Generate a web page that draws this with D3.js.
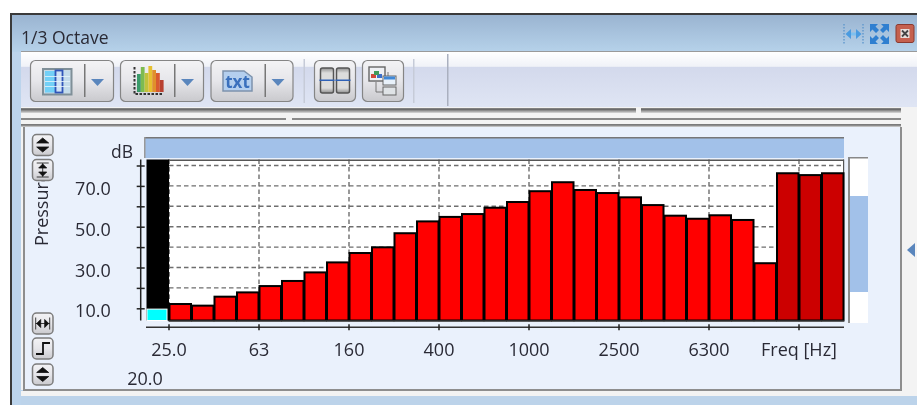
<!DOCTYPE html>
<html>
<head>
<meta charset="utf-8">
<script src="https://cdn.jsdelivr.net/npm/d3@7"></script>
<style>
  html, body { margin: 0; padding: 0; background: #fff; overflow: hidden; }
  svg { display: block; filter: blur(0.35px); }
  text { font-family: "Open Sans", "Noto Sans", sans-serif; fill: #2a2a35; }
</style>
</head>
<body>
<svg id="chart" width="917" height="405"></svg>
<script>
// 1/3 octave band centres, the first one is the cursor band
var freqs = ["20", "25", "31.5", "40", "50", "63", "80", "100", "125", "160", "200", "250",
  "315", "400", "500", "630", "800", "1000", "1250", "1600", "2000", "2500", "3150",
  "4000", "5000", "6300", "8000", "10000", "12500", "16000", "20000"];

// dB levels
var levels = [9.6, 12.1, 11.3, 15.7, 17.8, 20.9, 23.4, 27.6, 32.5, 37.1, 39.9, 46.8, 52.6,
  54.8, 56.2, 59.3, 62.1, 67.4, 71.8, 68, 66.5, 64.4, 60.6, 55.4, 53.9, 55.6, 53.3,
  32.1, 76.2, 75.3, 76.2];

var xTickFreqs = ["25", "63", "160", "400", "1000", "2500", "6300", "16000"];
var xTickLabels = ["25.0", "63", "160", "400", "1000", "2500", "6300", "Freq [Hz]"];
var yTicks = [10, 20, 30, 40, 50, 60, 70, 80];
var yTickLabels = ["10.0", "", "30.0", "", "50.0", "", "70.0", ""];
var darkBands = ["12500", "16000", "20000"];
var cursorBand = "20";

var svg = d3.select("#chart");
var defs = svg.append("defs");

function gradient(id, stops) {
    var g = defs.append("linearGradient").attr("id", id)
        .attr("x1", 0).attr("x2", 0).attr("y1", 0).attr("y2", 1);
    stops.forEach(function(s) {
        g.append("stop").attr("offset", s[0]).attr("stop-color", s[1]);
    });
}
gradient("titleGrad", [[0, "#9ab4d1"], [1, "#b6d2ea"]]);
gradient("toolGrad", [[0, "#ffffff"], [0.26, "#f0f2f8"], [0.28, "#d3d9ec"], [1, "#dfe5f4"]]);
gradient("btnGrad", [[0, "#f3f3f5"], [0.5, "#e6e6ea"], [1, "#c9c9cd"]]);
gradient("splitGrad", [[0, "#8c8c8c"], [0.3, "#6d6d6d"], [1, "#dadada"]]);
gradient("slotGrad", [[0, "#8f8f8f"], [0.2, "#dcdcdc"], [0.8, "#dcdcdc"], [1, "#8f8f8f"]]);

function box(x, y, w, h, fill) {
    return svg.append("rect").attr("x", x).attr("y", y).attr("width", w).attr("height", h).attr("fill", fill);
}

// window chrome
box(10, 13, 907, 392, "#bcd4ec");
box(10, 13, 907, 2, "#3a3a3a");
box(10, 13, 2, 392, "#3a3a3a");
box(12, 15, 905, 37, "url(#titleGrad)");
box(21, 51, 896, 1.5, "#9a9a9a");
box(21, 52, 896, 55, "url(#toolGrad)");
box(21, 107, 880, 283, "#f3f3f3");
box(21, 108, 880, 5, "url(#splitGrad)");
box(21, 118, 880, 2, "#8a8a8a");
box(21, 124, 880, 3, "url(#splitGrad)");
box(286, 118, 6, 2, "#f3f3f3");
box(636, 108, 5, 5, "#f3f3f3");
box(901, 107, 16, 290, "#f3f3f3");
box(21, 396, 896, 9, "#bcd3ea");
box(21, 391, 896, 5, "#f3f3f3");

// chart panel
box(23, 127, 879, 264, "#eaf1fc");
box(23, 127, 2, 264, "#8e8e8e");
box(900, 127, 2, 264, "#8e8e8e");
box(23, 389, 879, 2, "#8e8e8e");

svg.append("text").attr("x", 21).attr("y", 44).attr("font-size", 17.5).text("1/3 Octave");

// toolbar
function toolButton(x, w, sepX) {
    svg.append("rect").attr("x", x).attr("y", 60.5).attr("width", w).attr("height", 41).attr("rx", 5)
        .attr("fill", "url(#btnGrad)").attr("stroke", "#858585").attr("stroke-width", 1.2);
    if (sepX) {
        box(sepX, 64, 1.5, 33, "#777");
        svg.append("path").attr("d", d3.line()([[sepX + 7, 79], [sepX + 20, 79], [sepX + 13.5, 86]]))
            .attr("fill", "#5a86bd");
    }
}
toolButton(30.5, 83, 84);
toolButton(120.5, 83, 174);
toolButton(211, 82, 264.5);
toolButton(314.5, 41);
toolButton(362.5, 41);
box(303.5, 59, 1.5, 44, "#c6cbd8");
box(413, 59, 1.5, 44, "#c6cbd8");
box(447, 54, 1.5, 52, "#aab0bf");

// table icon
box(43, 69, 28.5, 25.5, "#c9dbe6").attr("stroke", "#7f8f98").attr("stroke-width", 2);
box(45, 71, 10, 21.5, "#72d0f7");
box(63, 71, 7, 21.5, "#c4dceb");
box(55.5, 70.5, 7, 22, "#cfe2f5").attr("stroke", "#3155b8").attr("stroke-width", 1.8);
[76, 81, 86].forEach(function(ly) { box(45, ly, 25, 0.8, "#e8f4fa"); });
// spectrum icon
["#3a9a6a", "#7dbb50", "#bfc23c", "#e6c030", "#e0902c", "#d85a30", "#b84030"].forEach(function(c, i) {
    var h = [18, 25, 19, 26, 22, 19, 12][i];
    box(137 + i * 3.8, 92 - h, 3.8, h, c);
});
svg.append("path").attr("d", "M134.5 67V94H163").attr("fill", "none").attr("stroke", "#333")
    .attr("stroke-width", 2).attr("stroke-dasharray", "2.5,1.5");
// txt icon
svg.append("path").attr("d", "M223 71H244L252 77V91H223Z").attr("fill", "#b4cfee").attr("stroke", "#7d93ad").attr("stroke-width", 1.5);
svg.append("text").attr("x", 237.5).attr("y", 88).attr("text-anchor", "middle").attr("font-size", 17)
    .attr("font-weight", 700).style("fill", "#3a70bd").text("txt");
// split view icons
[320.5, 336.5].forEach(function(x) {
    svg.append("rect").attr("x", x).attr("y", 68).attr("width", 13).attr("height", 25).attr("rx", 2)
        .attr("fill", "url(#slotGrad)").attr("stroke", "#555").attr("stroke-width", 1.5);
    box(x - 1, 79.5, 15, 1.5, "#2f62b8");
});
// layout icon
svg.append("path").attr("d", "M376 82V92H384M388 76V72").attr("fill", "none").attr("stroke", "#777");
box(369, 67, 16, 14, "#eef0f4").attr("stroke", "#666").attr("stroke-width", 1.4);
box(371, 74, 5, 4, "#d0483c");
box(377, 74, 5, 4, "#3c6fc8");
box(374, 71, 5, 4, "#3f9a5a");
box(383, 76, 13, 9, "#e8f1fa").attr("stroke", "#666");
box(384, 76.5, 11, 3, "#3f88d8");
box(383, 87, 13, 8, "#dfe3e6").attr("stroke", "#666");

// window buttons, top right
svg.append("path").attr("d", "M844 24V44M863 24V44").attr("stroke", "#5a94cc").attr("stroke-width", 1.3).attr("stroke-dasharray", "1.5,1.5");
svg.append("path").attr("d", "M847 34H860").attr("fill", "none").attr("stroke", "#7fc0ee").attr("stroke-width", 3);
svg.append("path").attr("d", "M851 29L845.5 34L851 39ZM856 29L861.5 34L856 39Z").attr("fill", "#4a9be0");
[[870, 24, 1, 1], [889, 24, -1, 1], [870, 44, 1, -1], [889, 44, -1, -1]].forEach(function(c) {
    var cx = c[0], cy = c[1], sx = c[2], sy = c[3];
    svg.append("path")
        .attr("d", d3.line()([[cx, cy], [cx + 8 * sx, cy], [cx + 5.5 * sx, cy + 2.5 * sy], [cx + 9 * sx, cy + 6 * sy],
            [cx + 6 * sx, cy + 9 * sy], [cx + 2.5 * sx, cy + 5.5 * sy], [cx, cy + 8 * sy]]))
        .attr("fill", "#2f7fd0");
});
svg.append("rect").attr("x", 896).attr("y", 24.5).attr("width", 18).attr("height", 18).attr("rx", 2)
    .attr("fill", "#c5604e").attr("stroke", "#8a3a30");
box(900.5, 29, 9, 9, "#e7e0dc");
svg.append("path").attr("d", "M902 30.5L908 36.5M908 30.5L902 36.5").attr("stroke", "#444").attr("stroke-width", 1.8);

// side buttons
function sideButton(y, glyph) {
    svg.append("rect").attr("x", 32.5).attr("y", y).attr("width", 20.5).attr("height", 21).attr("rx", 4)
        .attr("fill", "url(#btnGrad)").attr("stroke", "#7c7c7c").attr("stroke-width", 1.5);
    svg.append("path").attr("d", glyph(42.7, y + 10.5)).attr("fill", "#111").attr("stroke", "#111").attr("stroke-width", 0.8);
}
var updown = function(x, y) { return "M" + (x - 6) + " " + (y - 2) + "L" + x + " " + (y - 7) + "L" + (x + 6) + " " + (y - 2) + "ZM" + (x - 6) + " " + (y + 2) + "L" + x + " " + (y + 7) + "L" + (x + 6) + " " + (y + 2) + "Z"; };
var expandV = function(x, y) { return "M" + (x - 6) + " " + (y - 7) + "H" + (x + 6) + "M" + (x - 6) + " " + (y + 7) + "H" + (x + 6) + "M" + x + " " + (y - 7) + "V" + (y + 7) + "M" + (x - 4) + " " + (y - 2) + "L" + x + " " + (y - 6) + "L" + (x + 4) + " " + (y - 2) + "ZM" + (x - 4) + " " + (y + 2) + "L" + x + " " + (y + 6) + "L" + (x + 4) + " " + (y + 2) + "Z"; };
var expandH = function(x, y) { return "M" + (x - 7) + " " + (y - 6) + "V" + (y + 6) + "M" + (x + 7) + " " + (y - 6) + "V" + (y + 6) + "M" + (x - 7) + " " + y + "H" + (x + 7) + "M" + (x - 2) + " " + (y - 4) + "L" + (x - 6) + " " + y + "L" + (x - 2) + " " + (y + 4) + "ZM" + (x + 2) + " " + (y - 4) + "L" + (x + 6) + " " + y + "L" + (x + 2) + " " + (y + 4) + "Z"; };
sideButton(134.5, updown);
sideButton(313, expandH);
svg.append("rect").attr("x", 32.5).attr("y", 338).attr("width", 20.5).attr("height", 21).attr("rx", 4)
    .attr("fill", "url(#btnGrad)").attr("stroke", "#7c7c7c").attr("stroke-width", 1.5);
svg.append("path").attr("d", "M36 354H43V343H50").attr("fill", "none").attr("stroke", "#111").attr("stroke-width", 1.8);
sideButton(364, updown);

// y axis title goes under the button
svg.append("text").attr("transform", "translate(48,246) rotate(-90)").attr("font-size", 18).text("Pressure");
sideButton(159.5, expandV);

svg.append("text").attr("x", 133).attr("y", 158).attr("text-anchor", "end").attr("font-size", 17.5).text("dB");

// level strip above the plot
box(144, 137, 700, 21, "#a2c1e9");
box(144, 137, 700, 1.5, "#777");
box(144, 137, 1.5, 21, "#999");

// scrollbar on the right
box(849, 157, 19, 166, "#ffffff");
box(849, 157, 19, 1.5, "#888");
box(848, 157, 2, 166, "#8a8a8a");
box(850, 196, 18, 96, "#a2c1e9");
svg.append("path").attr("d", "M915 243V257L907 250Z").attr("fill", "#5a86bd");

// scales
var x = d3.scaleBand().domain(freqs).range([146.5, 844]);
var y = d3.scaleLinear().domain([10, 80]).range([308.3, 165.5]);
var floorDb = y.invert(320.5);
var topDb = y.invert(159.5);
var bw = x.bandwidth();

// plot area
var plotLeft = x(freqs[1]);
box(plotLeft, y(topDb), 844 - plotLeft, y(floorDb) - y(topDb), "#ffffff");

// gridlines
var grid = svg.append("g").attr("stroke", "#6e6e6e").attr("stroke-width", 1.4).attr("stroke-dasharray", "4.5,3");
grid.selectAll("line.h").data(yTicks).enter().append("line").attr("class", "h")
    .attr("x1", plotLeft).attr("x2", 844)
    .attr("y1", function(d) { return y(d); }).attr("y2", function(d) { return y(d); });
grid.selectAll("line.v").data(xTickFreqs).enter().append("line").attr("class", "v")
    .attr("x1", function(d) { return x(d); }).attr("x2", function(d) { return x(d); })
    .attr("y1", y(topDb)).attr("y2", y(floorDb));
grid.append("line").attr("x1", plotLeft).attr("x2", plotLeft).attr("y1", y(topDb)).attr("y2", y(floorDb));

box(plotLeft, y(topDb), 844 - plotLeft, 1.5, "#555");
box(843, y(topDb), 1.2, y(floorDb) - y(topDb), "#555");

// cursor band behind its bar
box(x(cursorBand), y(topDb), bw, y(floorDb) - y(topDb), "#000");

var bands = freqs.map(function(f, i) { return {freq: f, level: levels[i]}; });

svg.append("g").selectAll("rect").data(bands.slice(1)).enter().append("rect")
    .attr("x", function(d) { return x(d.freq) + 0.5; })
    .attr("y", function(d) { return y(d.level); })
    .attr("width", bw - 1)
    .attr("height", function(d) { return y(floorDb) - y(d.level); })
    .attr("fill", function(d) { return darkBands.indexOf(d.freq) >= 0 ? "#cc0000" : "#ff0000"; })
    .attr("stroke", "#000")
    .attr("stroke-width", 2);

// cyan bar of the cursor band
svg.append("g").selectAll("rect").data(bands.slice(0, 1)).enter().append("rect")
    .attr("x", function(d) { return x(d.freq) + 0.5; })
    .attr("y", function(d) { return y(d.level); })
    .attr("width", bw - 2.5)
    .attr("height", function(d) { return y(floorDb) - y(d.level); })
    .attr("fill", "#00ffff")
    .attr("stroke", "#fff")
    .attr("stroke-width", 1);

box(plotLeft, y(floorDb), 844 - plotLeft, 1.2, "#555");

// axes
var yAxis = svg.append("g")
    .attr("transform", "translate(140.7,0)")
    .call(d3.axisLeft(y).tickValues(yTicks).tickSize(0)
        .tickFormat(function(d) { return yTickLabels[yTicks.indexOf(d)]; }));
yAxis.select(".domain").attr("d", d3.line()([[0, y(topDb)], [0, y(floorDb)]])).attr("stroke", "#222").attr("stroke-width", 1.5);
yAxis.selectAll(".tick line").attr("x1", -4).attr("x2", 4).attr("stroke", "#222").attr("stroke-width", 1.5);
yAxis.selectAll(".tick text").attr("x", -30).attr("dy", 0).attr("y", 8.5)
    .style("font-family", '"Open Sans", sans-serif').style("font-size", "18px").attr("fill", "#2a2a35");

// band scale centres its ticks, ours sit on the band's left edge
var xAxis = svg.append("g")
    .attr("transform", "translate(" + (-bw / 2) + ",327.3)")
    .call(d3.axisBottom(x).tickValues(xTickFreqs).tickSize(0)
        .tickFormat(function(d) { return xTickLabels[xTickFreqs.indexOf(d)]; }));
xAxis.select(".domain").attr("d", d3.line()([[146 + bw / 2, 0], [844 + bw / 2, 0]])).attr("stroke", "#333").attr("stroke-width", 1.4);
xAxis.selectAll(".tick line").attr("y1", -3).attr("y2", 3).attr("stroke", "#222").attr("stroke-width", 1.5);
xAxis.selectAll(".tick text").attr("y", 28.5).attr("dy", 0)
    .style("font-family", '"Open Sans", sans-serif').style("font-size", "18px").attr("fill", "#2a2a35");

// lower bound of the frequency range
svg.append("text").attr("x", 145).attr("y", 385).attr("text-anchor", "middle").attr("font-size", 18).text("20.0");
</script>
</body>
</html>
